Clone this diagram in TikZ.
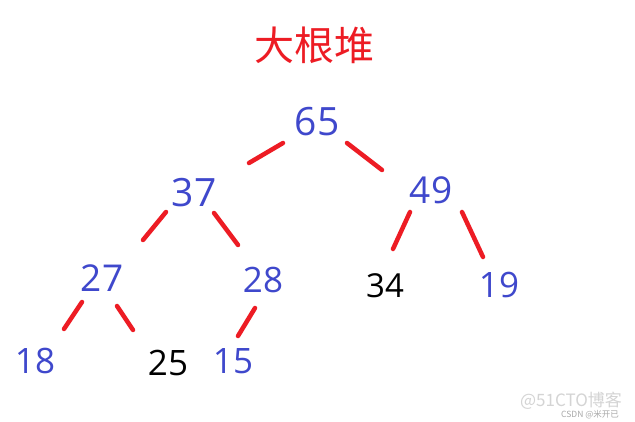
\documentclass[tikz,border=0pt]{standalone}
\usepackage{fontspec}
\setmainfont{Open Sans}
\newfontfamily\cjkfont{Noto Sans CJK SC}
\definecolor{nblue}{HTML}{3F48CC}
\definecolor{sred}{HTML}{ED1C24}
\definecolor{wmgray}{HTML}{D4D4D4}
\definecolor{wmgray2}{HTML}{A8A8A8}
\begin{document}
\begin{tikzpicture}[x=1pt,y=-1pt,
  num/.style={anchor=base,inner sep=0pt,text=nblue,font=\fontsize{#1}{#1}\selectfont},
  bnum/.style={anchor=base,inner sep=0pt,text=black,font=\fontsize{#1}{#1}\selectfont},
  stroke/.style={draw=sred,line width=4.5pt,line cap=round}]
\useasboundingbox[fill=white] (0,0) rectangle (635,422);
\node[text=sred,font=\cjkfont\fontsize{40}{40}\selectfont,inner sep=0pt] (title) at (314,45) {大根堆};
\node[num=39] (n65) at (317,136) {65};
\node[num=39] (n37) at (194,207) {37};
\node[num=37] (n49) at (431,204) {49};
\node[num=37] (n27) at (102,292) {27};
\node[num=35] (n28) at (263,293) {28};
\node[bnum=33] (n34) at (385,298) {34};
\node[num=35] (n19) at (499,298) {19};
\node[num=35] (n18) at (35,373) {18};
\node[bnum=35] (n25) at (168,375) {25};
\node[num=35] (n15) at (233,373) {15};
% stroke end points
\coordinate (a1) at (283,143); \coordinate (a2) at (249,163);
\coordinate (b1) at (347,143); \coordinate (b2) at (382,170);
\coordinate (c1) at (166,212); \coordinate (c2) at (143,240);
\coordinate (d1) at (214,213); \coordinate (d2) at (238,245);
\coordinate (e1) at (410,212); \coordinate (e2) at (393,249);
\coordinate (f1) at (462,212); \coordinate (f2) at (483,257);
\coordinate (g1) at (82,302); \coordinate (g2) at (64,329);
\coordinate (h1) at (117,306); \coordinate (h2) at (133,330);
\coordinate (i1) at (255,308); \coordinate (i2) at (238,336);
\draw[stroke] (a1) -- (a2);
\draw[stroke] (b1) -- (b2);
\draw[stroke] (c1) -- (c2);
\draw[stroke] (d1) -- (d2);
\draw[stroke] (e1) -- (e2);
\draw[stroke] (f1) -- (f2);
\draw[stroke] (g1) -- (g2);
\draw[stroke] (h1) -- (h2);
\draw[stroke] (i1) -- (i2);
\node[text=wmgray,font=\cjkfont\fontsize{17}{17}\selectfont,inner sep=0pt] (wm1) at (571,401) {@51CTO博客};
\node[text=wmgray2,font=\cjkfont\fontsize{8.5}{8.5}\selectfont,inner sep=0pt] (wm2) at (590,415) {CSDN @米开已};
\end{tikzpicture}
\end{document}
